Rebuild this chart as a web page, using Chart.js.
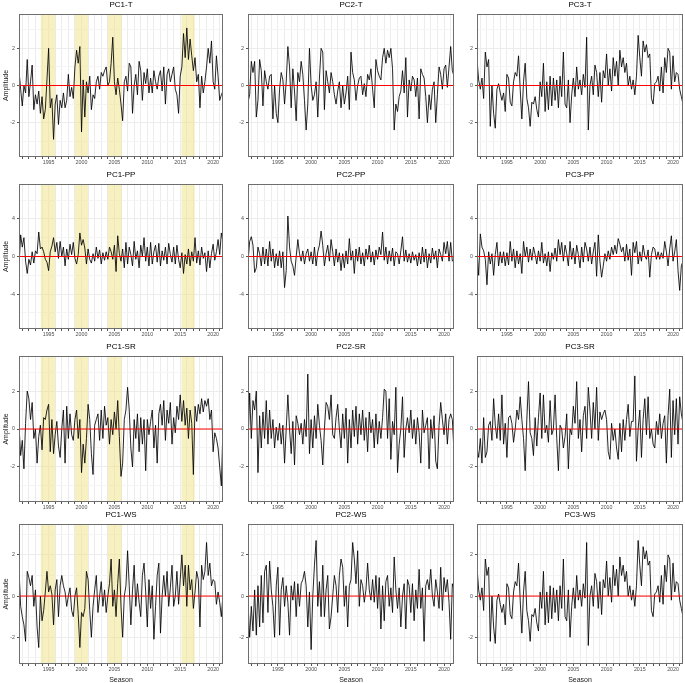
<!DOCTYPE html>
<html><head><meta charset="utf-8">
<script src="https://cdn.jsdelivr.net/npm/chart.js@4.4.0/dist/chart.umd.min.js"></script>
<style>
html,body{margin:0;padding:0;background:#fff;width:685px;height:683px;overflow:hidden;}
canvas{position:absolute;}
</style></head><body>
<script>
// ---- data (seasonal amplitudes, 1990.5 .. 2021.5 step 0.25) ----
const pc1_T = [0.8,-0.2,
-1.1,0.0,-0.4,1.4, -0.6,0.2,1.1,-1.3, -0.5,-1.0,-0.3,-1.5, -0.6,-1.8,-1.3,0.3,
2.0,-1.2,-0.7,-2.9, -1.0,-0.5,-2.1,-0.8, -1.2,-0.4,-1.2,-0.8, 0.6,-0.6,-0.1,-0.7,
1.0,1.9,1.2,2.1, -2.5,0.3,-1.7,0.2, -0.4,0.5,-1.3,-0.5, -0.7,0.2,0.5,-0.2,
0.7,0.5,0.8,1.0, 0.0,0.2,1.2,2.6, 0.2,-0.5,0.4,-0.2, -1.0,-1.9,0.2,0.5,
-0.3,1.2,1.0,-1.5, 0.0,0.6,-0.5,1.3, 0.8,-0.8,0.7,0.1, 0.9,-0.4,0.4,-0.4,
0.8,0.2,-0.2,0.5, 0.8,-0.3,1.0,-1.0, 0.6,0.9,0.2,0.6, 1.0,-0.2,-0.5,-1.5,
0.5,1.0,2.8,1.5, 3.1,1.4,2.5,1.6, 0.8,1.5,0.2,0.6, -1.2,0.5,-0.4,0.2,
1.0,2.0,1.2,2.4, 0.2,-0.2,1.6,0.5, -0.8,-0.5,-0.3];
const pc2_T = [-0.9,-0.5,
1.3,0.7,1.3,-1.7, -0.8,1.4,0.8,-1.1, 0.8,0.2,-0.2,0.5, 0.6,-1.8,0.0,-1.5,
-2.0,-0.2,0.7,0.3, -1.0,0.2,2.1,1.0, -1.2,0.9,-0.3,-1.9, 0.7,0.2,1.3,0.6,
-0.8,-2.4,-1.0,2.0, 0.0,-0.8,-0.5,0.2, -1.7,0.4,2.0,1.8, -1.3,0.8,0.2,-0.4,
0.7,0.2,-0.5,-1.0, -0.3,0.2,-1.2,0.0, -1.0,-0.4,0.5,-1.3, 1.8,0.7,0.3,-0.8,
0.0,0.4,0.5,-0.5, 0.1,-0.6,0.6,0.3, 0.9,-0.2,-1.2,1.4, 0.8,0.5,0.3,1.5,
2.0,1.2,1.9,1.5, 2.0,0.9,-2.4,-1.0, -1.4,-0.6,-0.3,0.8, -0.4,1.5,-1.7,0.3,
-0.3,0.5,0.3,-0.6, 0.4,-1.8,0.9,0.6, 0.4,-0.6,-2.0,-0.5, -1.3,-0.2,0.2,-2.0,
-0.5,1.0,0.6,-0.2, 0.9,1.1,-0.1,1.0, 2.1,0.8,0.5];
const pc3_T = [1.4,0.3,
-0.2,0.4,-0.7,1.8, 1.0,1.4,-2.2,0.0, -1.5,-2.3,-0.2,0.1, -0.4,-0.8,-0.4,-1.4,
0.6,0.4,-0.9,-1.1, 0.2,0.7,0.5,1.6, -0.2,-1.8,0.2,1.2, -0.7,-1.2,-2.2,-0.9,
-1.0,-0.6,-1.3,-1.7, 0.2,-0.6,1.2,-1.4, 0.2,-1.3,0.5,-1.1, 0.4,-0.8,0.3,-1.2,
0.5,-0.6,1.8,-1.0, -1.2,0.3,-2.0,-0.5, 0.4,-0.6,1.0,-0.2, 0.3,-0.5,0.6,-0.1,
2.6,-2.4,0.0,0.5, -0.5,1.1,0.7,-0.6, 0.7,-0.9,0.8,0.4, 1.7,0.0,0.9,-0.3,
1.5,0.5,1.3,0.0, 1.9,1.0,1.5,0.7, 1.2,0.0,0.5,-0.2, 0.3,-0.5,0.5,2.7,
1.5,0.5,2.4,1.8, 2.2,1.5,1.7,-0.7, -1.0,0.1,0.2,0.5, -0.3,1.0,-0.4,1.5,
0.7,2.0,1.8,-0.2, 1.6,0.2,0.7,0.6, -0.2,-0.6,-1.0];
const pc1_PP = [-1.0,2.3,
1.0,2.0,-0.5,-1.8, -0.3,-0.9,0.5,-0.7, 0.6,0.3,2.6,0.8, 1.0,0.5,-0.3,-0.6,
-1.5,0.5,1.1,2.0, 0.5,1.5,-0.2,1.6, 0.0,1.0,-1.0,0.8, -0.3,1.3,0.2,1.5,
-0.2,-0.8,0.2,2.5, 1.2,1.8,0.9,-0.8, 0.8,-0.3,-0.7,0.3, -0.5,1.0,-0.2,0.7,
-0.8,0.4,-0.4,0.5, -0.3,1.0,0.5,-0.3, 1.2,-1.6,2.2,0.3, -0.5,0.8,-1.2,1.5,
-0.8,1.0,0.2,-1.0, 1.6,-0.3,0.6,-1.2, 1.2,0.0,2.0,-0.5, 1.0,-1.0,1.5,-0.8,
0.5,1.2,-0.6,1.4, -1.0,0.6,-0.4,1.0, -0.8,1.4,0.2,-0.6, 1.0,-0.8,1.2,-0.3,
-1.2,0.4,-1.8,0.2, -0.8,0.8,-1.0,0.5, -0.5,2.0,-0.7,0.6, -0.9,1.0,-0.2,0.4,
-1.6,0.6,-1.2,0.3, 1.3,-0.4,0.5,1.8, 0.2,2.5,1.5];
const pc2_PP = [-0.6,1.6,
2.1,1.2,-1.7,-1.2, 1.0,0.3,-1.0,1.0, -0.8,0.8,-1.0,1.6, -0.5,0.8,-1.2,0.3,
-1.0,0.6,-1.2,0.5, -3.3,-1.5,4.3,1.0, -0.5,-1.0,-2.0,0.0, 1.8,0.3,-0.5,0.6,
-0.8,0.3,0.8,-0.5, 0.5,-0.8,1.0,-1.0, 0.5,1.2,2.7,1.2, -1.0,0.3,1.2,-0.5,
1.8,0.5,-1.0,0.8, -0.6,0.4,-1.5,0.3, -1.2,0.6,-0.8,1.9, -0.4,0.6,-1.8,0.8,
-0.5,1.0,-0.8,0.4, -1.0,0.8,-0.3,1.2, -0.6,0.5,-0.9,0.7, -0.3,1.0,0.2,2.6,
-0.4,1.0,-0.8,0.6, -0.5,0.9,-1.0,0.5, 0.3,-0.8,0.6,2.1, -0.5,0.7,-0.6,0.3,
-0.7,0.5,-0.4,0.2, -1.0,0.4,-0.8,1.0, -0.6,0.8,-1.2,0.3, -0.7,0.9,-0.3,0.6,
-1.2,0.8,0.2,-0.5, 1.5,0.3,1.6,-0.5, 1.5,-0.5,-0.3];
const pc3_PP = [0.6,-2.0,
2.4,1.0,0.6,-0.3, -3.0,0.5,-0.8,0.3, -2.0,0.2,1.5,-1.0, 0.5,-0.7,0.5,-1.0,
0.4,-0.9,1.6,-0.5, 0.8,-1.2,0.6,-0.8, 0.3,-1.8,1.6,0.0, 1.0,-0.6,0.8,-0.4,
1.0,0.2,-0.8,0.6, -0.5,1.5,-0.7,0.3, -1.0,0.5,-1.6,0.4, -0.3,0.9,-0.5,1.8,
0.2,1.5,-0.5,1.2, 0.3,-1.0,1.6,-0.3, 0.9,-0.8,1.2,0.2, -1.2,1.0,-0.6,1.5,
0.8,-0.5,1.0,-0.8, 0.5,1.5,-2.1,2.3, -0.5,-2.2,-1.0,0.3, -0.5,0.6,-0.3,1.0,
0.2,1.2,0.3,1.9, 1.3,0.5,1.0,-0.5, 1.3,-0.4,0.8,-2.0, 1.5,0.4,1.6,-0.8,
0.5,-0.5,1.2,0.1, -0.3,0.7,-2.2,0.2, 1.0,0.8,-0.3,0.5, -0.3,0.4,-0.2,1.6,
0.5,-1.0,0.8,2.2, -0.5,0.5,1.8,-1.5, -3.6,-1.0,-0.5];
const pc1_SR = [0.2,-1.4,
-0.6,-2.1,0.3,2.0, 1.6,0.5,1.4,-0.5, 0.0,-1.8,-0.4,0.2, -1.1,0.6,0.5,1.0,
1.3,-1.2,0.5,-1.3, -0.3,0.4,-0.9,-1.5, 0.0,1.0,-1.8,1.2, -0.5,0.8,-0.3,-0.6,
0.5,1.0,-0.5,0.5, -2.3,-0.8,-1.8,-0.5, 1.3,0.5,-1.3,-2.4, 0.2,0.5,0.8,-0.6,
1.0,-0.5,1.2,0.2, 0.6,-0.8,0.5,-0.3, 0.9,0.0,1.5,-0.4, -2.5,-1.8,0.5,1.0,
2.2,1.0,-1.0,-2.0, 0.5,-0.5,0.8,-1.2, 0.6,-0.8,0.5,-2.2, 0.5,-0.3,0.4,1.0,
-1.0,0.2,-1.8,0.8, 1.3,0.2,1.5,-0.6, 1.0,0.3,1.4,-0.8, 0.6,-0.2,1.2,0.5,
1.8,0.4,1.5,0.2, 1.1,-0.5,1.0,0.3, -2.4,1.2,0.4,1.3, 0.8,1.6,0.9,1.5,
1.2,1.6,0.5,1.0, -1.2,-0.2,-0.5,-1.0, -2.0,-3.0,0.2];
const pc2_SR = [-0.9,1.9,
-0.5,1.5,1.0,2.0, -2.3,0.7,-1.0,0.9, -0.5,1.5,-0.8,1.0, -0.5,0.5,-1.0,0.1,
-0.6,0.3,-0.8,0.2, -1.8,0.0,1.8,0.0, -1.3,0.4,-1.9,0.7, 0.3,-0.3,0.3,-0.8,
0.5,-0.4,2.9,-1.3, 0.5,-1.0,0.7,-0.5, 1.3,0.2,-0.6,-1.9, 0.0,1.4,1.2,0.5,
1.8,-0.3,-0.5,0.6, 1.3,0.0,-1.0,0.8, -0.5,1.1,-1.8,0.5, -1.0,1.0,-0.4,1.2,
-0.8,0.8,-0.3,1.0, -0.6,0.6,-1.2,0.9, -0.2,0.5,-1.0,0.8, -0.8,0.4,-0.5,0.6,
2.1,2.0,-0.5,1.6, -1.6,0.4,-0.3,2.2, -2.3,-0.8,0.0,1.7, -1.5,0.0,0.6,-0.2,
1.0,-0.5,0.5,-0.8, 0.6,-0.2,-1.8,1.0, -0.2,0.2,0.6,-2.1, 0.5,-0.5,0.7,-1.7,
-2.1,0.2,1.4,0.5, -0.3,0.8,-0.8,0.5, 0.8,0.5,-1.2];
const pc3_SR = [-1.0,-1.5,
-0.5,-1.8,0.6,-1.5, -1.2,0.2,0.4,-0.6, 1.6,0.2,-0.5,0.8, -0.6,1.8,-0.8,0.3,
-1.5,0.6,0.7,0.3, -0.7,0.0,1.0,0.5, 1.7,0.5,-0.5,-2.2, 0.5,2.5,-0.2,-0.5,
-1.4,0.6,-0.9,0.6, 1.9,-0.5,1.8,-0.2, 0.2,-0.7,1.5,-0.3, 0.0,1.8,-0.5,-2.2,
0.2,0.0,-1.0,-0.4, 0.8,-2.1,0.0,-0.3, 1.2,0.3,2.5,-0.5, 0.5,-1.2,0.7,1.2,
-0.5,2.2,1.0,-0.5, 1.4,0.0,2.2,-0.6, 0.9,0.5,0.8,1.0, 0.5,-1.2,-1.6,0.3,
-0.6,0.0,-1.0,-1.6, 0.3,-1.2,0.5,-0.6, 0.5,1.3,-0.4,0.4, 0.4,2.8,-1.7,0.0,
1.0,-1.5,0.5,1.6, -0.3,1.7,-0.5,0.0, -0.8,-1.0,0.4,-0.3, 0.8,-0.5,0.3,0.7,
-1.8,0.7,2.1,-1.5, 1.5,-0.3,1.6,-0.8, 1.7,0.8,0.3];
const pc1_WS = [1.3,-0.5,
-1.0,-1.4,-2.2,1.2, 0.9,0.5,1.0,-0.5, 0.3,-1.5,-2.5,0.0, -1.2,-0.7,0.2,1.2,
0.2,0.5,0.1,-1.4, 0.3,0.8,-1.0,0.5, 1.0,0.5,0.2,-0.5, 0.0,0.4,-0.7,-1.0,
0.0,0.4,-0.9,-2.5, -0.8,-1.0,-0.6,1.2, 0.8,-0.7,-2.0,-0.5, 0.3,1.0,-0.8,0.0,
0.7,-0.5,0.3,-0.8, 0.0,0.6,1.8,-0.5, 0.3,-1.0,0.6,1.8, -0.5,-2.0,0.0,0.5,
2.2,0.5,-1.4,0.3, 1.5,-0.5,0.6,-0.3, -1.0,1.0,1.6,0.2, -1.5,0.8,-0.6,0.5,
-2.1,-0.5,1.0,1.6, -1.8,0.0,1.0,0.0, 1.2,-0.5,0.4,1.5, -0.5,0.0,1.2,-0.4,
0.8,2.0,0.5,1.5, -0.5,1.5,0.3,0.8, -0.6,0.2,1.2,0.8, -1.5,1.5,0.8,1.2,
2.6,1.0,1.6,0.5, 0.8,0.7,-0.4,0.2, -0.3,-1.0,0.1];
const pc2_WS = [-0.3,-2.0,
-0.5,-1.7,0.3,-1.9, 0.5,-1.5,1.0,-1.3, 1.2,1.5,-0.8,1.7, 0.3,-0.5,-2.0,0.5,
1.4,-1.9,0.3,0.9, -0.5,0.5,-0.3,-1.9, 0.5,-0.2,0.7,-1.0, 0.6,-0.5,0.6,0.8,
1.2,0.5,-1.5,0.2, -2.6,0.0,1.5,2.7, -0.5,0.7,-1.0,1.5, -1.0,0.3,1.0,-1.6,
-1.0,0.0,1.0,0.5, -0.8,1.0,1.8,1.4, -0.5,0.5,-1.5,0.5, 0.8,2.6,1.8,0.6,
2.2,-0.5,0.8,0.5, -0.3,0.3,1.6,0.3, -0.2,0.8,-0.3,1.0, -0.6,0.9,-1.6,0.5,
-1.2,0.7,1.0,-0.5, 0.4,-0.8,1.9,0.3, -0.6,0.4,-1.5,0.0, 0.6,-1.6,0.8,0.5,
-0.8,0.6,-1.2,0.3, -0.6,1.3,-0.6,0.4, -2.2,0.5,0.8,0.3, 1.3,0.0,-0.5,0.8,
0.2,-0.6,1.4,-0.7, 0.9,0.2,0.8,-0.3, -2.1,0.6,0.3];
const pc3_WS = [1.4,0.3,
-0.2,0.4,-0.7,1.8, 1.0,1.4,-2.2,0.0, -1.5,-2.3,-0.2,0.1, -0.4,-0.8,-0.4,-1.4,
0.6,0.4,-0.9,-1.1, 0.2,0.7,0.5,1.6, -0.2,-1.8,0.2,1.2, -0.7,-1.2,-2.2,-0.9,
-1.0,-0.6,-1.3,-1.7, 0.2,-0.6,1.2,-1.4, 0.2,-1.3,0.5,-1.1, 0.4,-0.8,0.3,-1.2,
0.5,-0.6,1.8,-1.0, -1.2,0.3,-2.0,-0.5, 0.4,-0.6,1.0,-0.2, 0.3,-0.5,0.6,-0.1,
2.6,-2.4,0.0,0.5, -0.5,1.1,0.7,-0.6, 0.7,-0.9,0.8,0.4, 1.7,0.0,0.9,-0.3,
1.5,0.5,1.3,0.0, 1.9,1.0,1.5,0.7, 1.2,0.0,0.5,-0.2, 0.3,-0.5,0.5,2.7,
1.5,0.5,2.4,1.8, 2.2,1.5,1.7,-0.7, -1.0,0.1,0.2,0.5, -0.3,1.0,-0.4,1.5,
0.7,2.0,1.8,-0.2, 1.6,0.2,0.7,0.6, -0.2,-0.6,-1.0];

const panelTitles = ['PC1-T','PC2-T','PC3-T','PC1-PP','PC2-PP','PC3-PP','PC1-SR','PC2-SR','PC3-SR','PC1-WS','PC2-WS','PC3-WS'];
const panelSeries = [pc1_T,pc2_T,pc3_T,pc1_PP,pc2_PP,pc3_PP,pc1_SR,pc2_SR,pc3_SR,pc1_WS,pc2_WS,pc3_WS];
const yearLabels = [1995,2000,2005,2010,2015,2020];
const highlightPeriods = [[1993.8,1996.0],[1999.0,2001.0],[2004.0,2006.1],[2015.2,2017.2]];
const rowYTicks = [[-2,0,2],[-4,0,4],[-2,0,2],[-2,0,2]];
const rowYMinor = [[-3,-1,1,3],[-6,-2,2,6],[-3,-1,1,3],[-3,-1,1,3]];
const rowYRange = [[-3.85,3.85],[-7.7,7.7],[-3.85,3.85],[-3.3,3.5]];
const xMin = 1990.5, xMax = 2021.5;
const seasons = [];
for (let i = 0; i < pc1_T.length; i++) seasons.push(1990.5 + i * 0.25);
const yearGrid = [];
for (let y = 1991; y <= 2021; y++) yearGrid.push(y);

// ---- layout (page px) ----
const colL = [19, 248, 477], colR = [223, 454, 683];
const rowT = [14, 184, 356, 524], rowB = [157, 329, 502, 664];
const yAxisW = [19, 20, 19];

Chart.defaults.font.family = '"Liberation Sans", Arial, Helvetica, sans-serif';

const panelPlugin = {
  id: 'panel',
  beforeDatasetsDraw(chart) {
    const o = chart.options.plugins.panel;
    const a = chart.chartArea, ctx = chart.ctx, x = chart.scales.x;
    if (o.bands) {
      ctx.save();
      ctx.fillStyle = 'rgba(240,226,130,0.5)';
      for (const [s, e] of highlightPeriods) {
        const p0 = x.getPixelForValue(s), p1 = x.getPixelForValue(e);
        ctx.fillRect(p0, a.top, p1 - p0, a.bottom - a.top);
      }
      ctx.restore();
    }
  },
  afterDraw(chart) {
    const o = chart.options.plugins.panel;
    const a = chart.chartArea, ctx = chart.ctx;
    ctx.save();
    ctx.strokeStyle = '#6e6e6e';
    ctx.lineWidth = 1;
    ctx.strokeRect(a.left + 0.5, a.top + 0.5, a.right - a.left - 1, a.bottom - a.top - 1);
    ctx.fillStyle = '#000';
    ctx.font = '8px "Liberation Sans", Arial, sans-serif';
    ctx.textAlign = 'center';
    ctx.textBaseline = 'middle';
    ctx.fillText(o.title, (a.left + a.right) / 2, a.top - 9);
    ctx.restore();
  }
};

function makePanel(r, c) {
  const idx = r * 3 + c;
  const L = colL[c], R = colR[c], T = rowT[r], B = rowB[r];
  const yw = yAxisW[c], tp = 14, rp = 2, xh = (r === 3 ? 20 : 12);
  const cv = document.createElement('canvas');
  const cw = R - L + yw + rp, ch = B - T + tp + xh;
  cv.width = cw; cv.height = ch;
  cv.style.left = (L - yw) + 'px'; cv.style.top = (T - tp) + 'px';
  cv.style.width = cw + 'px'; cv.style.height = ch + 'px';
  document.body.appendChild(cv);
  const series = panelSeries[idx];
  const minorSet = new Set(rowYMinor[r]);
  const yAll = rowYTicks[r].concat(rowYMinor[r]).sort((a, b) => a - b);
  new Chart(cv, {
    type: 'line',
    data: {
      datasets: [
        { data: [{x: xMin, y: 0}, {x: xMax, y: 0}], borderColor: '#ff0000', borderWidth: 1, pointRadius: 0, order: 0 },
        { data: seasons.map((x, i) => ({x: x, y: series[i]})), borderColor: '#000000', borderWidth: 0.85, pointRadius: 0, tension: 0, order: 1 }
      ]
    },
    options: {
      responsive: false, animation: false, devicePixelRatio: 1,
      layout: { padding: { top: tp, right: rp, left: 0, bottom: 0 } },
      plugins: { legend: { display: false }, tooltip: { enabled: false }, title: { display: false },
                 panel: { title: panelTitles[idx], bands: c === 0 } },
      scales: {
        x: {
          type: 'linear', min: xMin, max: xMax,
          afterBuildTicks: s => { s.ticks = yearGrid.map(v => ({ value: v })); },
          afterFit: s => { s.height = xh; },
          ticks: { autoSkip: false, maxRotation: 0, minRotation: 0, padding: 0,
                   callback: v => yearLabels.includes(v) ? String(v) : '',
                   font: { size: 5.3 }, color: '#4d4d4d' },
          grid: { color: '#ececec', lineWidth: 1, tickColor: '#555', tickLength: 2 },
          border: { display: false },
          title: { display: r === 3, text: 'Season', font: { size: 7 }, color: '#222', padding: { top: 0, bottom: 0 } }
        },
        y: {
          min: rowYRange[r][0], max: rowYRange[r][1],
          afterBuildTicks: s => { s.ticks = yAll.map(v => ({ value: v })); },
          afterFit: s => { s.width = yw; },
          ticks: { padding: 2, callback: v => minorSet.has(v) ? '' : String(v),
                   font: { size: 5.3 }, color: '#4d4d4d' },
          grid: { color: ctx => (ctx.tick && minorSet.has(ctx.tick.value)) ? '#f5f5f5' : '#ececec',
                  tickColor: ctx => (ctx.tick && minorSet.has(ctx.tick.value)) ? 'rgba(0,0,0,0)' : '#555',
                  lineWidth: 1, tickLength: 2 },
          border: { display: false },
          title: { display: c === 0, text: 'Amplitude', font: { size: 7 }, color: '#222', padding: { top: 2, bottom: 0 } }
        }
      }
    },
    plugins: [panelPlugin]
  });
}

for (let r = 0; r < 4; r++) for (let c = 0; c < 3; c++) makePanel(r, c);
</script>
</body></html>
